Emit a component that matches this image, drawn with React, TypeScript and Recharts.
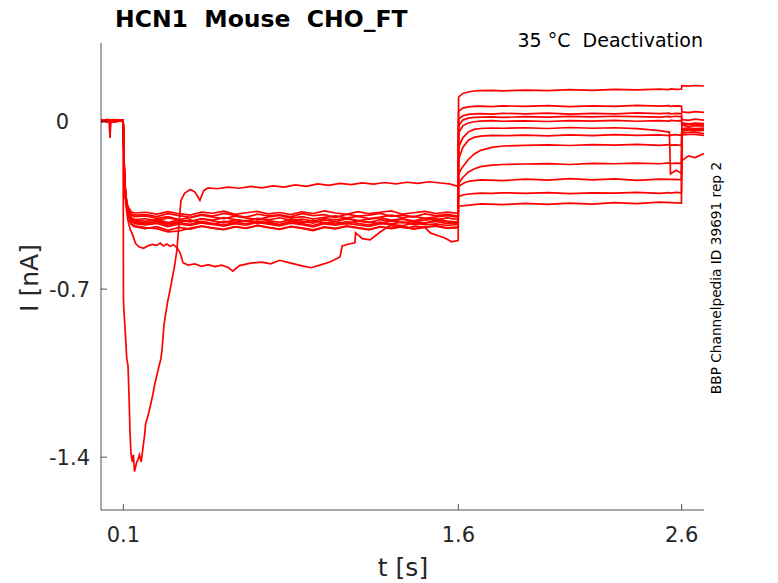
import React from 'react';
import { LineChart, Line, XAxis, YAxis } from 'recharts';

const FONT = 'DejaVu Sans';
const INK = '#262626';
const TRACE = '#ff0000';

const xTicks = [0.1, 1.6, 2.6];
const xTickLabels = ['0.1', '1.6', '2.6'];
const yTicks = [-1.4, -0.7, 0];
const yTickLabels = ['-1.4', '-0.7', '0'];

const titleText = 'HCN1  Mouse  CHO_FT';
const conditionText = '35 °C  Deactivation';
const sourceText = 'BBP Channelpedia ID 39691 rep 2';
const xAxisTitle = 't [s]';
const yAxisTitle = 'I [nA]';

// shared time grid (s) for the ten traces of the main band
const bandTime = [
  0, 0.03, 0.06, 0.099,
  0.101, 0.104, 0.11, 0.12, 0.135, 0.15,
  0.2, 0.25, 0.3, 0.35, 0.4, 0.45, 0.5, 0.55, 0.6, 0.65,
  0.7, 0.75, 0.8, 0.85, 0.9, 0.95, 1.0, 1.05, 1.1, 1.15,
  1.2, 1.25, 1.3, 1.35, 1.4, 1.45, 1.5, 1.55, 1.599,
  1.601, 1.62, 1.645, 1.67, 1.7, 1.75, 1.8,
  1.9, 2.0, 2.1, 2.2, 2.3, 2.4, 2.5, 2.545, 2.55, 2.575, 2.599,
  2.601, 2.63, 2.66, 2.7,
];

// currents (nA) on bandTime
const band1 = [
  0.006, -0.004, 0.003, 0.0,
  -0.06, -0.21, -0.31, -0.37, -0.392, -0.398,
  -0.395, -0.405, -0.398, -0.41, -0.402, -0.392, -0.4, -0.407, -0.396, -0.403,
  -0.41, -0.399, -0.393, -0.404, -0.398, -0.408, -0.401, -0.395, -0.403, -0.397,
  -0.406, -0.4, -0.392, -0.402, -0.397, -0.405, -0.399, -0.394, -0.401,
  0.1, 0.115, 0.121, 0.125, 0.127, 0.128, 0.126,
  0.129, 0.127, 0.131, 0.128, 0.132, 0.13, 0.133, 0.131, 0.134, 0.132, 0.133,
  0.147, 0.145, 0.148, 0.146,
];
const band2 = [
  -0.003, 0.005, -0.002, 0.004,
  -0.05, -0.2, -0.32, -0.38, -0.41, -0.418,
  -0.425, -0.416, -0.428, -0.419, -0.412, -0.424, -0.43, -0.418, -0.422, -0.414,
  -0.426, -0.42, -0.431, -0.417, -0.423, -0.413, -0.425, -0.419, -0.428, -0.416,
  -0.421, -0.427, -0.415, -0.424, -0.418, -0.426, -0.412, -0.42, -0.428,
  0.04, 0.054, 0.059, 0.061, 0.062, 0.06, 0.063,
  0.061, 0.064, 0.06, 0.063, 0.061, 0.065, 0.062, 0.064, 0.061, 0.063, 0.062,
  0.038, 0.035, 0.039, 0.036,
];
const band3 = [
  0.002, 0.007, -0.004, 0.003,
  -0.07, -0.22, -0.3, -0.36, -0.385, -0.392,
  -0.39, -0.398, -0.386, -0.394, -0.401, -0.389, -0.396, -0.385, -0.393, -0.4,
  -0.388, -0.395, -0.391, -0.399, -0.386, -0.394, -0.39, -0.402, -0.388, -0.396,
  -0.392, -0.385, -0.397, -0.391, -0.399, -0.387, -0.394, -0.389, -0.396,
  0.008, 0.022, 0.028, 0.03, 0.031, 0.029, 0.032,
  0.03, 0.033, 0.029, 0.032, 0.03, 0.034, 0.031, 0.033, 0.03, 0.032, 0.031,
  0.006, 0.003, 0.008, 0.004,
];
const band4 = [
  -0.005, 0.003, 0.006, -0.002,
  -0.04, -0.19, -0.31, -0.385, -0.418, -0.427,
  -0.433, -0.426, -0.44, -0.429, -0.435, -0.424, -0.431, -0.438, -0.427, -0.434,
  -0.422, -0.43, -0.437, -0.425, -0.432, -0.441, -0.428, -0.434, -0.426, -0.433,
  -0.439, -0.427, -0.431, -0.436, -0.424, -0.432, -0.428, -0.435, -0.43,
  -0.02, 0.004, 0.012, 0.015, 0.016, 0.017, 0.015,
  0.018, 0.016, 0.019, 0.017, 0.02, 0.018, 0.016, 0.019, 0.017, 0.02, 0.018,
  -0.008, -0.012, -0.009, -0.011,
];
const band5 = [
  0.004, -0.002, 0.005, 0.001,
  -0.05, -0.2, -0.32, -0.375, -0.402, -0.41,
  -0.407, -0.415, -0.404, -0.412, -0.419, -0.406, -0.413, -0.402, -0.41, -0.417,
  -0.405, -0.411, -0.403, -0.414, -0.408, -0.418, -0.406, -0.412, -0.404, -0.415,
  -0.409, -0.402, -0.413, -0.407, -0.416, -0.405, -0.411, -0.403, -0.41,
  -0.05, -0.02, -0.008, -0.003, 0.0, 0.002, -0.001,
  0.001, -0.002, 0.002, 0.0, 0.003, -0.001, 0.002, 0.0, 0.003, 0.001, 0.002,
  -0.018, -0.022, -0.019, -0.021,
];
const band6 = [
  -0.002, 0.004, 0.0, 0.005,
  -0.04, -0.18, -0.3, -0.39, -0.43, -0.44,
  -0.448, -0.44, -0.455, -0.443, -0.45, -0.438, -0.446, -0.452, -0.441, -0.447,
  -0.436, -0.444, -0.451, -0.44, -0.447, -0.456, -0.443, -0.449, -0.439, -0.446,
  -0.453, -0.441, -0.448, -0.44, -0.45, -0.443, -0.438, -0.447, -0.444,
  -0.11, -0.07, -0.045, -0.035, -0.031, -0.029, -0.03,
  -0.028, -0.031, -0.027, -0.03, -0.028, -0.032, -0.04, -0.046, -0.22, -0.205, -0.218,
  -0.165, -0.145, -0.152, -0.135,
];
const band7 = [
  0.003, -0.005, 0.002, -0.001,
  -0.08, -0.23, -0.31, -0.355, -0.378, -0.383,
  -0.38, -0.388, -0.377, -0.386, -0.392, -0.379, -0.384, -0.375, -0.389, -0.382,
  -0.376, -0.387, -0.381, -0.39, -0.378, -0.385, -0.374, -0.383, -0.389, -0.377,
  -0.386, -0.38, -0.374, -0.388, -0.382, -0.376, -0.385, -0.379, -0.384,
  -0.16, -0.11, -0.08, -0.068, -0.063, -0.06, -0.061,
  -0.059, -0.062, -0.058, -0.061, -0.057, -0.06, -0.058, -0.061, -0.059, -0.057, -0.06,
  -0.042, -0.038, -0.041, -0.039,
];
const band8 = [
  -0.001, 0.006, -0.003, 0.002,
  -0.05, -0.2, -0.32, -0.38, -0.415, -0.422,
  -0.428, -0.42, -0.434, -0.423, -0.43, -0.418, -0.426, -0.433, -0.421, -0.428,
  -0.416, -0.425, -0.432, -0.42, -0.427, -0.435, -0.422, -0.429, -0.419, -0.426,
  -0.433, -0.421, -0.428, -0.42, -0.431, -0.424, -0.418, -0.427, -0.423,
  -0.22, -0.19, -0.16, -0.138, -0.122, -0.11, -0.104,
  -0.101, -0.099, -0.102, -0.098, -0.1, -0.097, -0.101, -0.098, -0.1, -0.099, -0.101,
  -0.032, -0.028, -0.031, -0.029,
];
const band9 = [
  0.005, -0.001, 0.004, -0.003,
  -0.06, -0.21, -0.31, -0.37, -0.405, -0.412,
  -0.418, -0.41, -0.423, -0.412, -0.42, -0.408, -0.416, -0.424, -0.411, -0.418,
  -0.407, -0.415, -0.422, -0.41, -0.417, -0.425, -0.412, -0.419, -0.408, -0.416,
  -0.423, -0.411, -0.418, -0.409, -0.42, -0.413, -0.407, -0.417, -0.421,
  -0.26, -0.235, -0.212, -0.2, -0.19, -0.184, -0.181,
  -0.179, -0.177, -0.181, -0.176, -0.178, -0.175, -0.178, -0.174, -0.177, -0.175, -0.176,
  -0.016, -0.012, -0.017, -0.014,
];
const band10 = [
  0.002, -0.004, 0.005, 0.0,
  -0.04, -0.18, -0.31, -0.39, -0.428, -0.437,
  -0.444, -0.448, -0.462, -0.458, -0.446, -0.438, -0.445, -0.451, -0.44, -0.446,
  -0.434, -0.443, -0.45, -0.439, -0.445, -0.453, -0.441, -0.447, -0.437, -0.444,
  -0.451, -0.44, -0.446, -0.438, -0.448, -0.442, -0.436, -0.445, -0.441,
  -0.315, -0.308, -0.304, -0.302, -0.3, -0.301, -0.299,
  -0.301, -0.298, -0.302, -0.299, -0.3, -0.297, -0.301, -0.298, -0.3, -0.297, -0.299,
  -0.036, -0.033, -0.037, -0.034,
];

// the sweep with the deep transient
const deepTime = [
  0, 0.02, 0.036, 0.04, 0.044, 0.07, 0.099,
  0.1005, 0.103, 0.11, 0.115, 0.121, 0.126, 0.13, 0.134, 0.14, 0.145,
  0.15, 0.155, 0.16, 0.166, 0.172, 0.18, 0.188, 0.195, 0.2, 0.21,
  0.22, 0.232, 0.242, 0.25, 0.26, 0.268, 0.273, 0.282, 0.29, 0.3,
  0.31, 0.318, 0.33, 0.34, 0.35, 0.358, 0.375, 0.4, 0.42, 0.443,
  0.46, 0.48, 0.52, 0.57, 0.62, 0.67, 0.72, 0.77, 0.82, 0.87,
  0.92, 0.97, 1.02, 1.07, 1.12, 1.17, 1.22, 1.27, 1.32, 1.37,
  1.42, 1.47, 1.52, 1.56, 1.599, 1.601, 1.625, 1.65, 1.7, 1.8,
  1.9, 2.0, 2.1, 2.2, 2.3, 2.4, 2.5, 2.599, 2.601, 2.65,
  2.7,
];
const deepCurrent = [
  0.004, -0.002, 0.003, -0.07, -0.008, 0.005, 0.0,
  -0.745, -0.795, -0.9, -0.986, -1.02, -1.16, -1.3, -1.38, -1.42, -1.39,
  -1.46, -1.44, -1.42, -1.41, -1.39, -1.42, -1.36, -1.31, -1.26, -1.23,
  -1.19, -1.14, -1.09, -1.06, -1.02, -0.99, -0.955, -0.85, -0.8, -0.745,
  -0.7, -0.66, -0.6, -0.537, -0.42, -0.33, -0.3, -0.285, -0.295, -0.33,
  -0.29, -0.278, -0.282, -0.275, -0.28, -0.272, -0.278, -0.27, -0.275, -0.266,
  -0.272, -0.262, -0.268, -0.26, -0.265, -0.258, -0.263, -0.256, -0.262, -0.255,
  -0.26, -0.253, -0.258, -0.262, -0.272, -0.272, -0.258, -0.25, -0.245, -0.248,
  -0.242, -0.246, -0.24, -0.245, -0.241, -0.247, -0.242, -0.244, -0.05, -0.046,
  -0.052,
];

// the sweep that sags below the band
const lowTime = [
  0, 0.03, 0.06, 0.099, 0.101, 0.104, 0.11, 0.12, 0.13, 0.14,
  0.155, 0.17, 0.19, 0.21, 0.23, 0.25, 0.265, 0.28, 0.295, 0.31,
  0.325, 0.34, 0.355, 0.367, 0.39, 0.42, 0.45, 0.48, 0.51, 0.54,
  0.57, 0.59, 0.62, 0.67, 0.72, 0.76, 0.8, 0.85, 0.9, 0.94,
  0.98, 1.025, 1.07, 1.08, 1.11, 1.137, 1.14, 1.17, 1.205, 1.25,
  1.294, 1.33, 1.37, 1.41, 1.45, 1.475, 1.51, 1.54, 1.57, 1.599,
  1.601, 1.65, 1.7, 1.8, 1.9, 2.0, 2.1, 2.2, 2.3, 2.4,
  2.5, 2.599, 2.601, 2.65, 2.7,
];
const lowCurrent = [
  -0.003, 0.004, -0.001, 0.002, -0.08, -0.22, -0.34, -0.41, -0.45, -0.47,
  -0.51, -0.524, -0.53, -0.52, -0.514, -0.518, -0.508, -0.52, -0.512, -0.522,
  -0.515, -0.528, -0.55, -0.59, -0.6, -0.595, -0.605, -0.598, -0.606, -0.6,
  -0.61, -0.625, -0.602, -0.592, -0.588, -0.595, -0.58, -0.592, -0.603, -0.611,
  -0.6, -0.587, -0.566, -0.52, -0.512, -0.507, -0.465, -0.49, -0.495, -0.462,
  -0.435, -0.44, -0.446, -0.438, -0.443, -0.466, -0.478, -0.487, -0.503, -0.498,
  -0.355, -0.35, -0.345, -0.348, -0.343, -0.347, -0.342, -0.346, -0.34, -0.344,
  -0.338, -0.342, -0.058, -0.055, -0.06,
];

const sweeps: { time: number[]; current: number[] }[] = [
  { time: bandTime, current: band1 },
  { time: bandTime, current: band2 },
  { time: bandTime, current: band3 },
  { time: bandTime, current: band4 },
  { time: bandTime, current: band5 },
  { time: bandTime, current: band6 },
  { time: bandTime, current: band7 },
  { time: bandTime, current: band8 },
  { time: bandTime, current: band9 },
  { time: bandTime, current: band10 },
  { time: deepTime, current: deepCurrent },
  { time: lowTime, current: lowCurrent },
];

const sweepData = sweeps.map((s) => s.time.map((t, i) => ({ t, v: s.current[i] })));

const XTick = (props: any) => {
  const { x, y, payload } = props;
  const i = xTicks.indexOf(payload.value);
  return (
    <g>
      <line x1={x} x2={x} y1={y} y2={y - 6} stroke={INK} strokeWidth={0.8} />
      <text x={x} y={y + 32} textAnchor="middle" fontSize={21} fontFamily={FONT} fill={INK}>
        {xTickLabels[i]}
      </text>
    </g>
  );
};

const YTick = (props: any) => {
  const { x, y, payload } = props;
  const i = yTicks.indexOf(payload.value);
  const gap = payload.value === 0 ? 32 : 11;
  return (
    <g>
      <line x1={x} x2={x + 6} y1={y} y2={y} stroke={INK} strokeWidth={0.8} />
      <text x={x - gap} y={y + 7.5} textAnchor="end" fontSize={21} fontFamily={FONT} fill={INK}>
        {yTickLabels[i]}
      </text>
    </g>
  );
};

export default function App() {
  return (
    <div style={{ position: 'absolute', left: 0, top: 0, width: 778, height: 583, background: '#fff' }}>
      <LineChart width={778} height={583} margin={{ top: 43, right: 74, bottom: 33, left: 41 }}>
        <XAxis
          type="number"
          dataKey="t"
          domain={[0, 2.7]}
          ticks={xTicks}
          interval={0}
          allowDataOverflow
          height={40}
          tickSize={0}
          tickMargin={0}
          tickLine={false}
          axisLine={{ stroke: INK, strokeWidth: 0.8 }}
          tick={<XTick />}
        />
        <YAxis
          type="number"
          domain={[-1.62, 0.325]}
          ticks={yTicks}
          interval={0}
          allowDataOverflow
          width={60}
          tickSize={0}
          tickMargin={0}
          tickLine={false}
          axisLine={{ stroke: INK, strokeWidth: 0.8 }}
          tick={<YTick />}
        />
        {sweepData.map((d, k) => (
          <Line
            key={k}
            data={d}
            dataKey="v"
            type="linear"
            stroke={TRACE}
            strokeWidth={1.7}
            dot={false}
            activeDot={false}
            isAnimationActive={false}
          />
        ))}
      </LineChart>
      <svg
        width={778}
        height={583}
        style={{ position: 'absolute', left: 0, top: 0, pointerEvents: 'none' }}
      >
        <text x={115} y={27} fontSize={23.5} fontWeight="bold" fontFamily={FONT} fill="#000" style={{ whiteSpace: 'pre' }}>
          {titleText}
        </text>
        <text x={703} y={47} textAnchor="end" fontSize={19} fontFamily={FONT} fill="#000" style={{ whiteSpace: 'pre' }}>
          {conditionText}
        </text>
        <text
          x={721}
          y={278}
          textAnchor="middle"
          fontSize={13.7}
          fontFamily={FONT}
          fill="#000"
          transform="rotate(-90 721 278)"
        >
          {sourceText}
        </text>
        <text x={403} y={576} textAnchor="middle" fontSize={25} fontFamily={FONT} fill={INK}>
          {xAxisTitle}
        </text>
        <text
          x={38}
          y={278}
          textAnchor="middle"
          fontSize={25}
          fontFamily={FONT}
          fill={INK}
          transform="rotate(-90 38 278)"
        >
          {yAxisTitle}
        </text>
      </svg>
    </div>
  );
}
